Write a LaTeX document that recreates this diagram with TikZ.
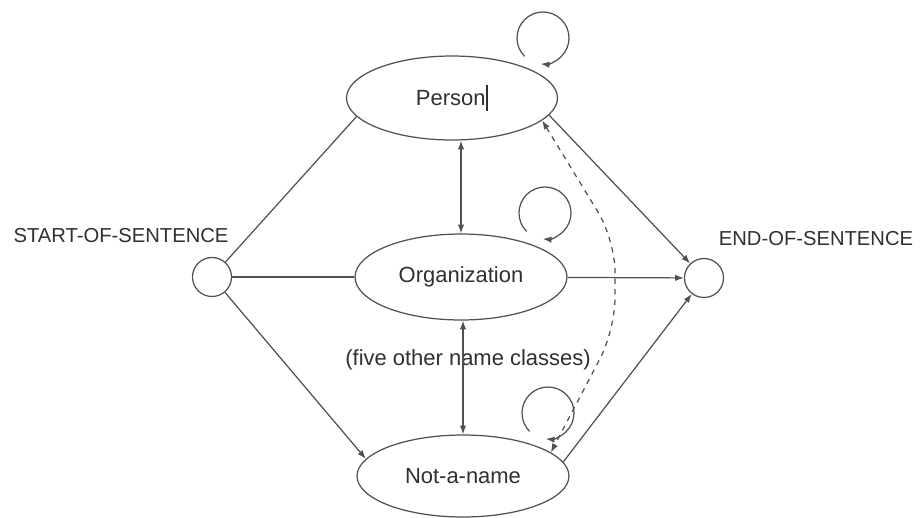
\documentclass[tikz,border=0pt]{standalone}
\usepackage{fontspec}
\setmainfont{Liberation Sans}
\usetikzlibrary{shapes.geometric,arrows.meta}
\definecolor{ln}{HTML}{505050}
\definecolor{tx}{HTML}{303030}
\tikzset{
  state/.style={ellipse, draw=ln, line width=0.7pt, inner sep=0pt, text=tx,
    font=\fontsize{12.5}{15}\selectfont},
  term/.style={circle, draw=ln, line width=0.7pt, inner sep=0pt, minimum size=0.78cm},
  lab/.style={text=tx, font=\fontsize{11.5}{14}\selectfont, inner sep=0pt},
  conn/.style={draw=ln, line width=0.7pt},
  tip/.style={-{Latex[length=5pt,width=3.6pt]}},
  tips/.style={{Latex[length=5pt,width=3.6pt]}-{Latex[length=5pt,width=3.6pt]}},
}
\begin{document}
\begin{tikzpicture}[x=0.02cm, y=-0.02cm]
\useasboundingbox (0,0) rectangle (921,518);
% states
\node[state, minimum width=4.22cm, minimum height=1.68cm] (person) at (452,98)
  {Person\kern0.5pt\rule[-0.25em]{0.9pt}{1.15em}};
\node[state, minimum width=4.24cm, minimum height=1.72cm] (org) at (461,277) {Organization};
\node[state, minimum width=4.24cm, minimum height=1.64cm] (notname) at (463,476) {Not-a-name};
\node[term] (start) at (212,277) {};
\node[term] (end) at (704,278) {};
% labels
\node[lab] (startlab) at (121,236) {START-OF-SENTENCE};
\node[lab] (endlab) at (816,239) {END-OF-SENTENCE};
\node[text=tx, font=\fontsize{12.5}{15}\selectfont, inner sep=0pt] (other) at (468,360) {(five other name classes)};
% loop centres
\coordinate (pl) at (543,38);
\coordinate (ol) at (545,213);
\coordinate (nl) at (548,413);
% connectors from start
\draw[conn] (start) -- (person.191);
\draw[conn] (start) -- (org);
\draw[conn, tip] (start) -- (notname.170);
% connectors to end
\draw[conn, tip] (person.-10) -- (end);
\draw[conn, tip] (org) -- (end);
\draw[conn, tip] (notname.8) -- (end);
% vertical double arrows
\draw[conn, tips] (org.north |- person.south) -- (org.north);
\draw[conn, tips] (notname.north |- org.south) -- (notname.north);
% self loops
\draw[conn, tip] (pl) ++(135:26) arc[start angle=135, end angle=455, radius=26];
\draw[conn, tip] (ol) ++(135:26) arc[start angle=135, end angle=455, radius=26];
\draw[conn, tip] (nl) ++(135:26) arc[start angle=135, end angle=455, radius=26];
% dashed curve
\coordinate (d1) at (615,240);
\coordinate (d2) at (615,330);
\draw[conn, tips, dashed, rounded corners=18] (person.-14) -- (d1) -- (d2) -- (notname.15);
\end{tikzpicture}
\end{document}
